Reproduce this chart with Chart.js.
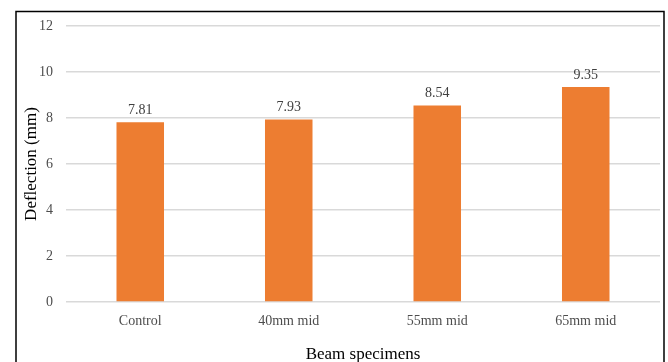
<!DOCTYPE html>
<html>
<head>
<meta charset="utf-8">
<script src="https://cdn.jsdelivr.net/npm/chart.js@4"></script>
<style>
  html, body { margin: 0; padding: 0; background: #fff; }
  #wrap { position: relative; width: 668px; height: 362px; }
</style>
</head>
<body>
<div id="wrap"><canvas id="beamChart" width="668" height="362"></canvas></div>
<script>
const categories = ['Control', '40mm mid', '55mm mid', '65mm mid']
const deflections = [7.81, 7.93, 8.54, 9.35]
const yTicks = [0, 2, 4, 6, 8, 10, 12]

const serif = '"Liberation Serif", "Times New Roman", serif'

// frame around the chart (left, top, right edges show in the picture)
const framePlugin = {
    id: 'frame',
    afterDraw: (chart) => {
        const ctx = chart.ctx
        ctx.save()
        ctx.strokeStyle = '#000'
        ctx.lineWidth = 1.5
        ctx.beginPath()
        ctx.moveTo(16, 370)
        ctx.lineTo(16, 11.5)
        ctx.lineTo(664, 11.5)
        ctx.lineTo(664, 370)
        ctx.stroke()
        ctx.restore()
    }
}

// value labels above each bar
const valueLabels = {
    id: 'valueLabels',
    afterDatasetsDraw: (chart) => {
        const ctx = chart.ctx
        const meta = chart.getDatasetMeta(0)
        ctx.save()
        ctx.font = '14px ' + serif
        ctx.fillStyle = '#404040'
        ctx.textAlign = 'center'
        ctx.textBaseline = 'bottom'
        meta.data.forEach((bar, i) => {
            ctx.fillText(deflections[i].toFixed(2), bar.x, bar.y - 5)
        })
        ctx.restore()
    }
}

const ctx = document.getElementById('beamChart').getContext('2d')
new Chart(ctx, {
    type: 'bar',
    data: {
        labels: categories,
        datasets: [{
            data: deflections,
            backgroundColor: '#ED7D31',
            borderWidth: 0,
            categoryPercentage: 1,
            barPercentage: 0.32,
        }],
    },
    options: {
        responsive: false,
        animation: false,
        layout: { padding: { left: 16, top: 26, right: 8, bottom: 0 } },
        plugins: {
            legend: { display: false },
            tooltip: { enabled: false },
        },
        scales: {
            x: {
                grid: { display: false },
                border: { display: false },
                ticks: { color: '#4d4d4d', font: { family: serif, size: 14 }, padding: 3 },
                title: {
                    display: true,
                    text: 'Beam specimens',
                    color: '#000',
                    font: { family: serif, size: 17 },
                    padding: { top: 0, bottom: -3 },
                },
                afterFit: (s) => { s.height = 60 },
            },
            y: {
                min: 0,
                max: 12,
                afterBuildTicks: (s) => { s.ticks = yTicks.map(v => ({ value: v })) },
                grid: { color: '#d9d9d9', lineWidth: 1.5, drawTicks: false },
                border: { display: false },
                ticks: { color: '#4d4d4d', font: { family: serif, size: 14 }, padding: 13 },
                title: {
                    display: true,
                    text: 'Deflection (mm)',
                    color: '#000',
                    font: { family: serif, size: 17 },
                    padding: { top: 5, bottom: 0 },
                },
                afterFit: (s) => { s.width = 50 },
            },
        },
    },
    plugins: [framePlugin, valueLabels],
})
</script>
</body>
</html>
